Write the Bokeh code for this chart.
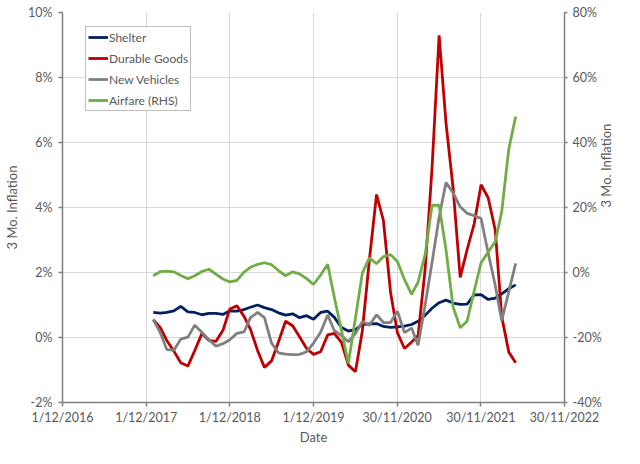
import math
import pandas as pd
from bokeh.plotting import figure
from bokeh.models import (Range1d, LinearAxis, FixedTicker, PrintfTickFormatter,
                          Legend, LegendItem)
from bokeh.embed import file_html
from bokeh.resources import INLINE

# ---- data (3-month inflation, %) monthly Jan 2018 .. May 2022 ----
months = pd.date_range("2018-01-01", periods=53, freq="MS")

shelter = [0.77, 0.75, 0.77, 0.82, 0.96, 0.79, 0.77, 0.70, 0.74, 0.74,
           0.71, 0.82, 0.81, 0.86, 0.93, 1.00, 0.92, 0.86, 0.76, 0.69,
           0.73, 0.61, 0.67, 0.56, 0.77, 0.81, 0.62, 0.31, 0.20, 0.24,
           0.40, 0.42, 0.43, 0.34, 0.31, 0.33, 0.35, 0.40, 0.50, 0.68,
           0.90, 1.07, 1.15, 1.06, 1.02, 1.03, 1.31, 1.32, 1.17, 1.21,
           1.34, 1.50, 1.62]

durable = [0.55, 0.30, -0.09, -0.42, -0.78, -0.88, -0.40, 0.12, -0.09, -0.12,
           0.22, 0.88, 0.98, 0.65, 0.25, -0.40, -0.92, -0.72, -0.14, 0.50,
           0.36, 0.02, -0.34, -0.52, -0.44, 0.08, 0.13, -0.15, -0.85, -1.05,
           0.20, 2.40, 4.40, 3.60, 1.40, 0.15, -0.34, -0.14, 0.05, 2.10,
           5.20, 9.30, 6.60, 4.60, 1.85, 2.70, 3.50, 4.70, 4.30, 3.30,
           0.65, -0.45, -0.78]

vehicles = [0.55, 0.14, -0.37, -0.39, -0.05, 0.01, 0.38, 0.16, -0.07, -0.27,
            -0.19, -0.07, 0.13, 0.17, 0.61, 0.77, 0.61, -0.17, -0.47, -0.51,
            -0.53, -0.52, -0.44, -0.17, 0.16, 0.69, 0.21, 0.06, -0.13, 0.12,
            0.49, 0.38, 0.70, 0.46, 0.46, 0.81, 0.15, 0.29, -0.24, 1.00,
            2.30, 3.70, 4.77, 4.45, 4.02, 3.82, 3.75, 3.66, 2.60, 1.60,
            0.52, 1.41, 2.28]

airfare = [-1.0, 0.3, 0.4, 0.2, -0.9, -1.9, -1.0, 0.3, 1.0, -0.5,
           -2.0, -2.9, -2.4, 0.1, 1.6, 2.5, 3.0, 2.4, 0.6, -1.0,
           0.2, -0.4, -1.9, -3.7, -0.8, 2.5, -7.7, -17.8, -28.0, -14.0,
           -0.2, 4.5, 2.7, 4.9, 5.5, 3.4, -2.2, -6.7, -3.0, 5.5,
           20.7, 20.7, 7.0, -10.6, -17.0, -15.0, -5.7, 3.0, 6.3, 9.5,
           18.7, 38.0, 48.0]

tick_dates = ["2016-12-01", "2017-12-01", "2018-12-01", "2019-12-01",
              "2020-11-30", "2021-11-30", "2022-11-30"]
tick_labels = ["1/12/2016", "1/12/2017", "1/12/2018", "1/12/2019",
               "30/11/2020", "30/11/2021", "30/11/2022"]
left_ticks = [-2, 0, 2, 4, 6, 8, 10]
right_ticks = [-40, -20, 0, 20, 40, 60, 80]

series_names = ["Shelter", "Durable Goods", "New Vehicles", "Airfare (RHS)"]
colors = ["#002060", "#C00000", "#808080", "#70AD47"]
y_title = "3 Mo. Inflation"
x_title = "Date"

# ---- build ----
origin = pd.Timestamp(tick_dates[0])
x = [int((d - origin).days) for d in months]
tick_x = [int((pd.Timestamp(t) - origin).days) for t in tick_dates]

FONT = "Lato"
TXT = "#595959"
AX = "#808080"

W, H = 624, 448
BL, BR, BT, BB = 62, 60, 12, 46
FH = H - BT - BB

p = figure(width=W, height=H, output_backend="svg", toolbar_location=None,
           x_range=Range1d(tick_x[0], tick_x[-1]), y_range=Range1d(-2, 10),
           min_border_left=BL, min_border_right=BR, min_border_top=BT,
           min_border_bottom=BB)
p.outline_line_color = None
p.extra_y_ranges = {"rhs": Range1d(-40, 80)}

p.xaxis.ticker = FixedTicker(ticks=tick_x)
p.xaxis.major_label_overrides = {t: lab for t, lab in zip(tick_x, tick_labels)}
p.xaxis.axis_label = x_title
p.yaxis.ticker = FixedTicker(ticks=left_ticks)
p.yaxis.formatter = PrintfTickFormatter(format="%d%%")
p.yaxis.axis_label = y_title

rax = LinearAxis(y_range_name="rhs", ticker=FixedTicker(ticks=right_ticks),
                 formatter=PrintfTickFormatter(format="%d%%"),
                 axis_label=y_title)
p.add_layout(rax, "right")
rax.axis_label_orientation = math.pi / 2

for ax in [p.xaxis[0], p.yaxis[0], rax]:
    ax.axis_line_color = AX
    ax.axis_line_width = 1.5
    ax.major_tick_line_color = AX
    ax.major_tick_line_width = 1.5
    ax.major_tick_out = 4
    ax.major_tick_in = 0
    ax.minor_tick_line_color = None
    ax.major_label_text_font = FONT
    ax.major_label_text_font_size = "12.5px"
    ax.major_label_text_color = TXT
    ax.axis_label_text_font = FONT
    ax.axis_label_text_font_size = "13px"
    ax.axis_label_text_color = TXT
    ax.axis_label_text_font_style = "normal"
p.yaxis.major_label_standoff = 6
p.yaxis.axis_label_standoff = 5
rax.major_tick_out = 3
rax.major_label_standoff = 5
rax.axis_label_standoff = 1
p.xaxis.major_label_standoff = 3
p.xaxis.axis_label_standoff = 1

p.xgrid.ticker = FixedTicker(ticks=tick_x)
p.ygrid.ticker = FixedTicker(ticks=left_ticks)
p.xgrid.grid_line_color = "#d9d9d9"
p.ygrid.grid_line_color = "#d9d9d9"

r1 = p.line(x, shelter, line_color=colors[0], line_width=2.8)
r2 = p.line(x, durable, line_color=colors[1], line_width=2.8)
r3 = p.line(x, vehicles, line_color=colors[2], line_width=2.8)
r4 = p.line(x, airfare, line_color=colors[3], line_width=2.8, y_range_name="rhs")

legend = Legend(items=[LegendItem(label=n, renderers=[r]) for n, r in
                       zip(series_names, [r1, r2, r3, r4])],
                location=(23, FH - 10 - 89))
legend.border_line_color = AX
legend.border_line_width = 1.5
legend.background_fill_color = "white"
legend.background_fill_alpha = 1
legend.label_text_font = FONT
legend.label_text_font_size = "12px"
legend.label_text_color = TXT
legend.glyph_width = 20
legend.glyph_height = 16
legend.label_standoff = 1
legend.spacing = 5
legend.padding = 2
legend.margin = 0
p.add_layout(legend)

open("out.html", "w").write(file_html(p, INLINE))
